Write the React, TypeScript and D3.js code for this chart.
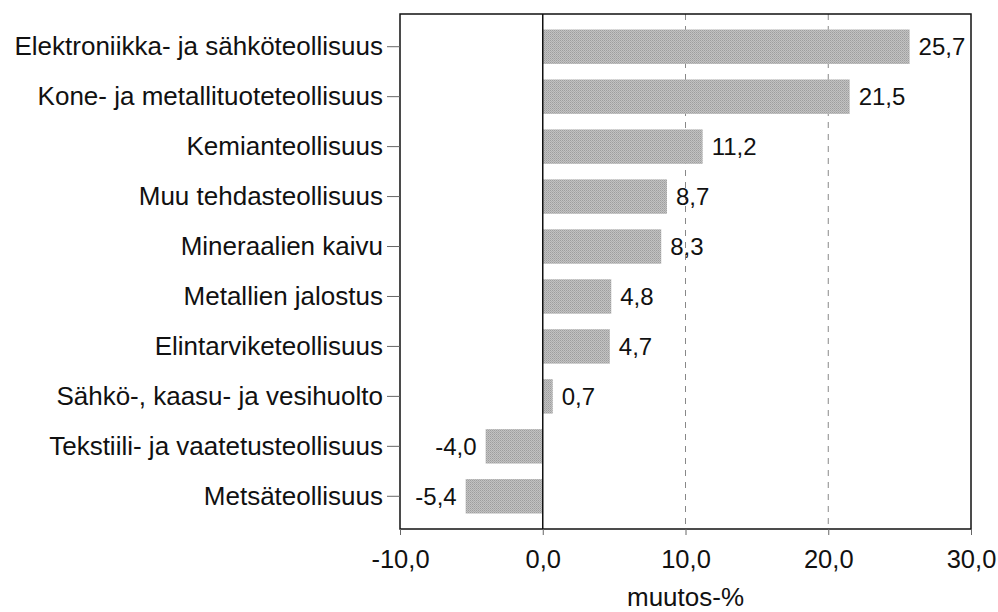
import * as d3 from 'd3';
import { useEffect, useRef } from 'react';

const categories = [
  'Elektroniikka- ja sähköteollisuus',
  'Kone- ja metallituoteteollisuus',
  'Kemianteollisuus',
  'Muu tehdasteollisuus',
  'Mineraalien kaivu',
  'Metallien jalostus',
  'Elintarviketeollisuus',
  'Sähkö-, kaasu- ja vesihuolto',
  'Tekstiili- ja vaatetusteollisuus',
  'Metsäteollisuus',
];
const values = [25.7, 21.5, 11.2, 8.7, 8.3, 4.8, 4.7, 0.7, -4.0, -5.4];
const xTicks = [-10, 0, 10, 20, 30];
const xTitle = 'muutos-%';

const fmt = (v: number) => v.toFixed(1).replace('.', ',');

export default function App() {
  const svgRef = useRef<SVGSVGElement | null>(null);

  useEffect(() => {
    if (!svgRef.current) return;
    const svg = d3.select(svgRef.current);
    svg.selectAll('*').remove();

    const margin = { top: 14, right: 27, bottom: 83, left: 400 };
    const width = 998;
    const height = 612;
    const innerWidth = width - margin.left - margin.right;
    const innerHeight = height - margin.top - margin.bottom;
    const font = 'Arial, "Liberation Sans", sans-serif';

    const x = d3.scaleLinear().domain([-10, 30]).range([0, innerWidth]);
    const y = d3.scaleBand().domain(categories).range([0, innerHeight]).padding(0.31);

    const defs = svg.append('defs');
    const pat = defs
      .append('pattern')
      .attr('id', 'stipple')
      .attr('width', 2)
      .attr('height', 2)
      .attr('patternUnits', 'userSpaceOnUse');
    pat.append('rect').attr('width', 2).attr('height', 2).attr('fill', '#c2c2c2');
    pat.append('rect').attr('width', 1).attr('height', 1).attr('fill', '#9e9e9e');
    pat.append('rect').attr('x', 1).attr('y', 1).attr('width', 1).attr('height', 1).attr('fill', '#acacac');

    const chart = svg.append('g').attr('transform', `translate(${margin.left},${margin.top})`);

    // dashed gridlines
    chart
      .selectAll('.grid')
      .data([10, 20])
      .enter()
      .append('line')
      .attr('x1', (d) => x(d))
      .attr('x2', (d) => x(d))
      .attr('y1', 0)
      .attr('y2', innerHeight)
      .attr('stroke', '#888')
      .attr('stroke-dasharray', '6,6');

    chart
      .selectAll('.bar')
      .data(values)
      .enter()
      .append('rect')
      .attr('x', (d) => x(Math.min(0, d)))
      .attr('y', (_, i) => y(categories[i]) as number)
      .attr('width', (d) => Math.abs(x(d) - x(0)))
      .attr('height', y.bandwidth())
      .attr('fill', 'url(#stipple)');

    chart
      .selectAll('.val')
      .data(values)
      .enter()
      .append('text')
      .attr('x', (d) => (d >= 0 ? x(d) + 9 : x(d) - 9))
      .attr('y', (_, i) => (y(categories[i]) as number) + y.bandwidth() / 2)
      .attr('dy', '0.36em')
      .attr('text-anchor', (d) => (d >= 0 ? 'start' : 'end'))
      .attr('font-family', font)
      .attr('font-size', 24)
      .attr('fill', '#111')
      .text((d) => fmt(d));

    // zero line
    chart
      .append('line')
      .attr('x1', x(0))
      .attr('x2', x(0))
      .attr('y1', 0)
      .attr('y2', innerHeight)
      .attr('stroke', '#111')
      .attr('stroke-width', 1.5);

    // frame
    chart
      .append('rect')
      .attr('width', innerWidth)
      .attr('height', innerHeight)
      .attr('fill', 'none')
      .attr('stroke', '#111')
      .attr('stroke-width', 1.5);

    const yAxis = chart
      .append('g')
      .call(d3.axisLeft(y).tickSize(13).tickPadding(4));
    yAxis.select('.domain').remove();
    yAxis.selectAll('line').attr('stroke', '#666');
    yAxis
      .selectAll('text')
      .attr('font-size', 26)
      .attr('font-family', font)
      .attr('fill', '#111');

    const xAxis = chart
      .append('g')
      .attr('transform', `translate(0,${innerHeight})`)
      .call(
        d3
          .axisBottom(x)
          .tickValues(xTicks)
          .tickSize(6)
          .tickPadding(15)
          .tickFormat((d) => fmt(d as number))
      );
    xAxis.select('.domain').remove();
    xAxis.selectAll('line').attr('stroke', '#666');
    xAxis
      .selectAll('text')
      .attr('font-size', 25.5)
      .attr('font-family', font)
      .attr('fill', '#111');

    svg
      .append('text')
      .attr('x', margin.left + x(10))
      .attr('y', 606)
      .attr('text-anchor', 'middle')
      .attr('font-size', 26)
      .attr('font-family', font)
      .attr('fill', '#111')
      .text(xTitle);
  }, []);

  return (
    <svg
      ref={svgRef}
      width={998}
      height={612}
      style={{ position: 'absolute', left: 0, top: 0, background: '#fff' }}
    ></svg>
  );
}
